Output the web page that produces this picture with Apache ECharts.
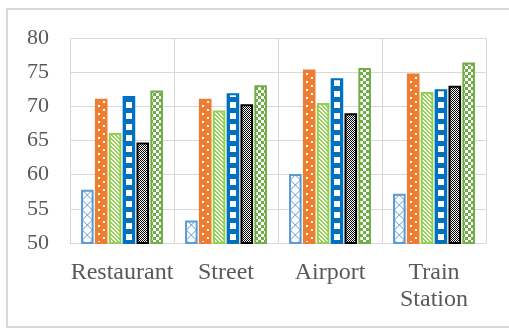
<!DOCTYPE html>
<html><head><meta charset="utf-8">
<script src="https://cdn.jsdelivr.net/npm/echarts@6/dist/echarts.min.js"></script>
<style>html,body{margin:0;padding:0;background:#fff;}#c{width:509px;height:329px;}</style>
</head><body><div id="c"></div>
<script>
var categories = ['Restaurant', 'Street', 'Airport', 'Train\nStation'];
var s1 = [57.8, 53.3, 60.1, 57.2];
var s2 = [71.1, 71.1, 75.4, 74.8];
var s3 = [66.1, 69.4, 70.5, 72.1];
var s4 = [71.5, 71.9, 74.1, 72.5];
var s5 = [64.7, 70.3, 69.0, 73.0];
var s6 = [72.3, 73.1, 75.6, 76.4];
var yTicks = [50, 55, 60, 65, 70, 75, 80];

var GL = 70, GR = 23, W = 509;
var catW = (W - GL - GR) / categories.length;
var barW = 12.6, gapR = 0.1;
var pitch = barW * (1 + gapR);
var total = 6 * barW + 5 * barW * gapR;
function seriesCenterMod(i, tw) {
  var c = GL + catW / 2 - total / 2 + i * pitch + barW / 2;
  return ((c % tw) + tw) % tw;
}
function tile(w, h, bg, draw) {
  var cv = document.createElement('canvas');
  cv.width = w; cv.height = h;
  var ctx = cv.getContext('2d');
  if (bg) { ctx.fillStyle = bg; ctx.fillRect(0, 0, w, h); }
  [-w, 0, w].forEach(function (dx) { ctx.save(); ctx.translate(dx, 0); draw(ctx); ctx.restore(); });
  return { image: cv, repeat: 'repeat' };
}
var C1 = '#5B9BD5', C2 = '#ED7D31', C3 = '#92D050', C4 = '#0070C0', C5 = '#000000', C6 = '#70AD47';
var TW = 13;
var p1 = (function () { var cx = seriesCenterMod(0, TW); return tile(TW, 10, '#fff', function (ctx) {
  ctx.strokeStyle = C1; ctx.lineWidth = 1;
  ctx.beginPath(); ctx.moveTo(cx - 5, 0); ctx.lineTo(cx + 5, 10); ctx.moveTo(cx + 5, 0); ctx.lineTo(cx - 5, 10); ctx.stroke();
}); })();
var p2 = (function () { var cx = seriesCenterMod(1, TW); return tile(TW, 8, C2, function (ctx) {
  ctx.fillStyle = '#fff';
  ctx.fillRect(Math.round(cx - 3.5), 1, 2, 2);
  ctx.fillRect(Math.round(cx + 1.5), 5, 2, 2);
}); })();
var p3 = (function () { var cv = document.createElement('canvas'); cv.width = 4; cv.height = 4; var ctx = cv.getContext('2d');
  ctx.fillStyle = '#fff'; ctx.fillRect(0, 0, 4, 4); ctx.fillStyle = C3;
  for (var x = 0; x < 4; x++) for (var y = 0; y < 4; y++) { var d = ((x - y) % 4 + 4) % 4; if (d === 0 || d === 1) ctx.fillRect(x, y, 1, 1); }
  return { image: cv, repeat: 'repeat' }; })();
var p4 = (function () { var cx = seriesCenterMod(3, TW); return tile(TW, 11, C4, function (ctx) {
  ctx.fillStyle = '#fff'; ctx.fillRect(Math.round(cx - 3), 3, 6, 6);
}); })();
var p5 = (function () { var cv = document.createElement('canvas'); cv.width = 2; cv.height = 2; var ctx = cv.getContext('2d');
  ctx.fillStyle = '#fff'; ctx.fillRect(0, 0, 2, 2); ctx.fillStyle = '#000'; ctx.fillRect(0, 0, 1, 1); ctx.fillRect(1, 1, 1, 1);
  return { image: cv, repeat: 'repeat' }; })();
var p6 = (function () { var cv = document.createElement('canvas'); cv.width = 6; cv.height = 6; var ctx = cv.getContext('2d');
  ctx.fillStyle = '#fff'; ctx.fillRect(0, 0, 6, 6); ctx.fillStyle = C6; ctx.fillRect(0, 0, 3, 3); ctx.fillRect(3, 3, 3, 3);
  return { image: cv, repeat: 'repeat' }; })();

var seriesDefs = [[s1, p1, C1], [s2, p2, C2], [s3, p3, C3], [s4, p4, C4], [s5, p5, C5], [s6, p6, C6]];
var font = 'Liberation Serif';
var chart = echarts.init(document.getElementById('c'), null, { renderer: 'canvas' });
chart.setOption({
  animation: false,
  grid: { left: GL, right: GR, top: 38, bottom: 86, containLabel: false },
  graphic: [{ type: 'rect', shape: { x: 7, y: 9, width: 540, height: 318 }, style: { fill: 'none', stroke: '#d9d9d9', lineWidth: 2 }, silent: true }],
  xAxis: {
    type: 'category', data: categories,
    axisLine: { show: true, lineStyle: { color: '#d9d9d9', width: 1 } },
    axisTick: { show: false },
    splitLine: { show: true, interval: 0, lineStyle: { color: '#d9d9d9', width: 1 } },
    axisLabel: { interval: 0, fontFamily: font, fontSize: 24, color: '#595959', margin: 16, lineHeight: 27 }
  },
  yAxis: {
    type: 'value', min: yTicks[0], max: yTicks[yTicks.length - 1], interval: 5,
    axisLine: { show: false }, axisTick: { show: false },
    splitLine: { show: true, lineStyle: { color: '#d9d9d9', width: 1 } },
    axisLabel: { fontFamily: font, fontSize: 22, color: '#595959', margin: 21 }
  },
  series: seriesDefs.map(function (d, i) {
    return {
      type: 'bar', data: d[0], barWidth: barW, barGap: (gapR * 100) + '%',
      itemStyle: { color: d[1], borderColor: d[2], borderWidth: 2 },
      emphasis: { disabled: true }
    };
  })
});
</script></body></html>
